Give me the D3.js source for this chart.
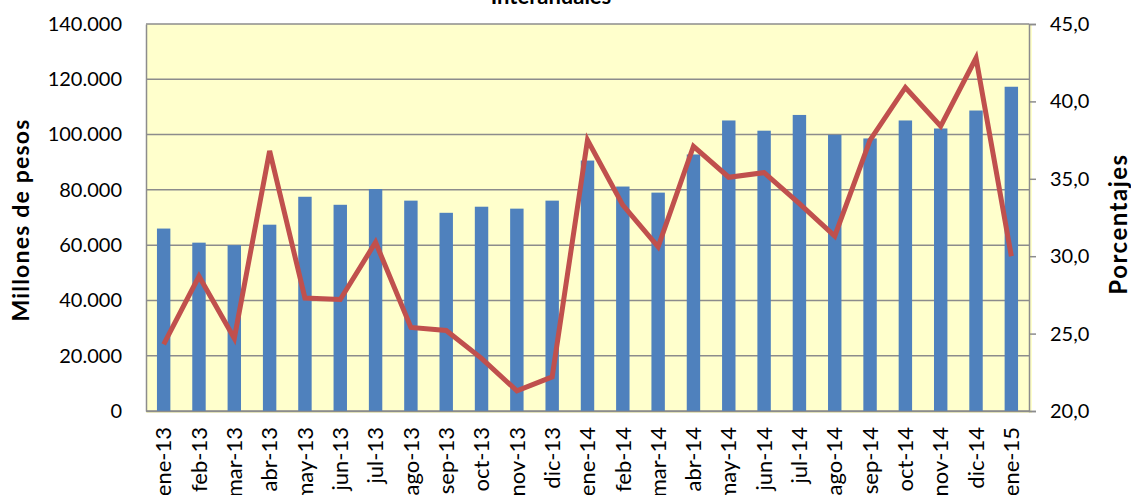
<!DOCTYPE html>
<html>
<head>
<meta charset="utf-8">
<script src="https://cdn.jsdelivr.net/npm/d3@7"></script>
<style>
  body { margin: 0; background: #fff; }
  text { font-family: Lato, "Open Sans", sans-serif; fill: #000; }
</style>
</head>
<body>
<svg id="chart" width="1131" height="495"></svg>
<script>
// categories (months)
const months = ["ene-13","feb-13","mar-13","abr-13","may-13","jun-13","jul-13","ago-13","sep-13","oct-13","nov-13","dic-13",
  "ene-14","feb-14","mar-14","abr-14","may-14","jun-14","jul-14","ago-14","sep-14","oct-14","nov-14","dic-14","ene-15"];
// millones de pesos (bars, left axis)
const millones = [66000,60900,60000,67400,77500,74600,80300,76100,71700,73900,73200,76100,
  90600,81200,79000,92800,105100,101400,107100,99900,98600,105100,102200,108700,117300];
// porcentajes (line, right axis)
const porcentajes = [24.3,28.7,24.7,36.8,27.3,27.2,30.9,25.4,25.2,23.4,21.3,22.2,
  37.5,33.3,30.6,37.1,35.1,35.4,33.4,31.3,37.5,40.9,38.4,42.8,30.0];
const leftTicks = [0,20000,40000,60000,80000,100000,120000,140000];
const rightTicks = [20,25,30,35,40,45];

const svg = d3.select("#chart");
const margin = {top: 24, right: 102, bottom: 84, left: 146};
const width = 1131 - margin.left - margin.right;
const height = 495 - margin.top - margin.bottom;

const g = svg.append("g").attr("transform", `translate(${margin.left},${margin.top})`);

const x = d3.scaleBand().domain(months).range([0, width]).paddingInner(0.62).paddingOuter(0.31);
const yL = d3.scaleLinear().domain([0, 140000]).range([height, 0]);
const yR = d3.scaleLinear().domain([20, 45]).range([height, 0]);

// plot background
g.append("rect").attr("x", 0).attr("y", 0)
  .attr("width", width + 3).attr("height", height + 2)
  .attr("fill", "#FFFFCC");

// gridlines
g.selectAll(".grid").data(leftTicks).enter().append("line")
  .attr("x1", 0).attr("x2", width)
  .attr("y1", d => yL(d)).attr("y2", d => yL(d))
  .attr("stroke", "#8c8c8c").attr("stroke-width", 1.5);

// bars
g.selectAll(".bar").data(millones).enter().append("rect")
  .attr("x", (d, i) => x(months[i]))
  .attr("width", x.bandwidth())
  .attr("y", d => yL(d))
  .attr("height", d => height - yL(d))
  .attr("fill", "#4F81BD");

// line
const line = d3.line()
  .x((d, i) => x(months[i]) + x.bandwidth() / 2)
  .y(d => yR(d));
g.append("path").datum(porcentajes)
  .attr("d", line)
  .attr("fill", "none")
  .attr("stroke", "#C0504D")
  .attr("stroke-width", 5)
  .attr("stroke-linejoin", "miter")
  .attr("stroke-linecap", "butt");

// left axis
const leftAxis = d3.axisLeft(yL).tickValues(leftTicks).tickSize(0).tickPadding(24)
  .tickFormat(d => d3.format(",")(d).replace(/,/g, "."));
const la = g.append("g").call(leftAxis);
la.select(".domain").attr("stroke", "#8c8c8c").attr("stroke-width", 1.5);
la.selectAll("text").style("font-size", "20px").style("font-family", "Lato, sans-serif");

// right axis
const rightAxis = d3.axisRight(yR).tickValues(rightTicks).tickSize(7).tickPadding(14)
  .tickFormat(d => d3.format(".1f")(d).replace(".", ","));
const ra = g.append("g").attr("transform", `translate(${width},0)`).call(rightAxis);
ra.select(".domain").attr("stroke", "#8c8c8c").attr("stroke-width", 1.5);
ra.selectAll("line").attr("stroke", "#8c8c8c").attr("stroke-width", 1.5);
ra.selectAll("text").style("font-size", "20px").style("font-family", "Lato, sans-serif");

// bottom axis
const bottomAxis = d3.axisBottom(x).tickSize(0).tickPadding(0);
const ba = g.append("g").attr("transform", `translate(0,${height})`).call(bottomAxis);
ba.select(".domain").attr("stroke", "#8c8c8c").attr("stroke-width", 1.5);
ba.selectAll("text")
  .style("font-size", "22px").style("font-family", "Lato, sans-serif")
  .attr("text-anchor", "end")
  .attr("transform", "rotate(-90)")
  .attr("x", -16).attr("y", 0).attr("dy", "0.35em");

// axis titles
svg.append("text")
  .attr("transform", "translate(29,220) rotate(-90)")
  .attr("text-anchor", "middle")
  .style("font-size", "23px").style("font-weight", "bold")
  .style("letter-spacing", "1.2px")
  .text("Millones de pesos");

svg.append("text")
  .attr("transform", "translate(1127,224) rotate(-90)")
  .attr("text-anchor", "middle")
  .style("font-size", "24px").style("font-weight", "bold")
  .style("letter-spacing", "1.5px")
  .text("Porcentajes");

// title (cut off at the top, as in the source)
svg.append("text")
  .attr("x", 551).attr("y", 4)
  .attr("text-anchor", "middle")
  .style("font-size", "22px").style("font-weight", "bold")
  .text("Interanuales");
</script>
</body>
</html>
